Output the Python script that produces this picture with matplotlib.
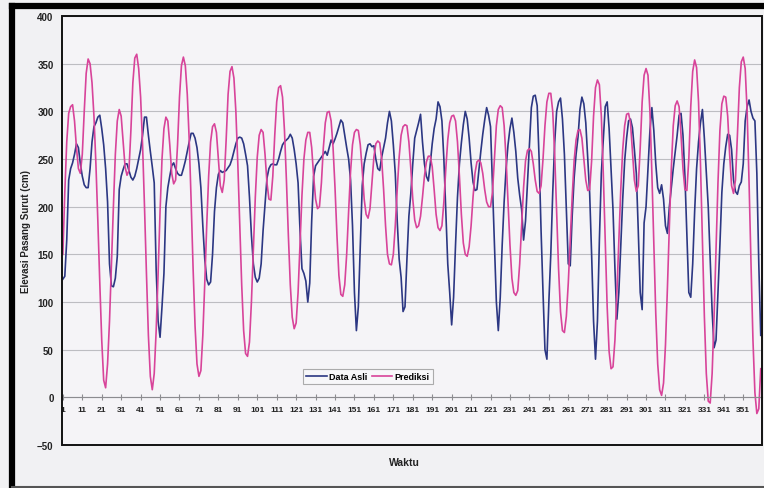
import matplotlib
matplotlib.use("Agg")
import matplotlib.pyplot as plt
from matplotlib.lines import Line2D
from matplotlib.patches import Rectangle

plt.rcParams['font.family'] = ['Liberation Sans', 'DejaVu Sans']

# waktu (jam ke-)
waktu = list(range(1, 361))

data_asli = [
    124, 127, 165, 228, 240, 246, 255, 266, 262, 245,
    232, 223, 220, 220, 240, 268, 284, 288, 294, 296,
    282, 265, 240, 205, 140, 117, 116, 125, 148, 218,
    232, 239, 245, 245, 238, 231, 228, 232, 240, 250,
    260, 275, 294, 294, 275, 258, 242, 225, 134, 80,
    63, 95, 130, 200, 220, 232, 243, 246, 240, 235,
    233, 233, 240, 248, 258, 268, 277, 277, 272, 262,
    245, 220, 180, 145, 124, 118, 121, 150, 195, 220,
    234, 238, 236, 237, 238, 241, 244, 250, 258, 266,
    272, 273, 272, 266, 255, 243, 210, 170, 140, 126,
    121, 125, 140, 175, 203, 230, 240, 244, 245, 244,
    244, 250, 258, 265, 268, 270, 272, 276, 272, 260,
    245, 225, 175, 135, 130, 122, 100, 120, 185, 232,
    243, 246, 249, 252, 255, 258, 254, 262, 270, 266,
    271, 277, 284, 291, 288, 275, 262, 250, 228, 180,
    110, 70, 95, 160, 222, 245, 256, 265, 266, 263,
    264, 250, 240, 238, 252, 262, 272, 288, 300, 290,
    265, 235, 185, 145, 126, 90, 95, 145, 190, 214,
    245, 272, 280, 288, 297, 268, 245, 232, 227, 245,
    266, 282, 292, 310, 305, 290, 250, 195, 140, 110,
    76, 105, 160, 210, 245, 267, 286, 300, 292, 272,
    246, 226, 217, 218, 238, 258, 276, 291, 304, 296,
    284, 222, 160, 100, 70, 105, 160, 205, 240, 265,
    282, 293, 278, 258, 230, 212, 197, 165, 185, 225,
    265, 304, 316, 317, 306, 250, 175, 110, 50, 40,
    100, 150, 215, 267, 300, 310, 314, 292, 255, 197,
    140, 138, 190, 230, 255, 273, 302, 315, 308, 288,
    250, 214, 150, 80, 40, 80, 165, 235, 270, 305,
    310, 282, 240, 197, 135, 82, 110, 160, 208, 248,
    272, 290, 292, 283, 260, 235, 175, 110, 92, 183,
    200, 240, 280, 304, 280, 245, 220, 214, 223, 208,
    180, 172, 200, 220, 240, 258, 275, 296, 298, 275,
    232, 170, 110, 105, 140, 195, 240, 268, 288, 302,
    272, 235, 200, 145, 90, 52, 60, 110, 160, 215,
    245, 263, 276, 275, 260, 228, 216, 213, 222, 226,
    245, 290, 305, 312, 300, 293, 290, 235, 140, 65,
]

prediksi = [
    150, 215, 268, 298, 305, 307, 290, 262, 240, 235,
    255, 300, 340, 355, 350, 330, 295, 245, 185, 120,
    60, 18, 10, 35, 80, 140, 200, 255, 290, 302,
    295, 268, 242, 233, 238, 280, 330, 356, 360, 345,
    315, 265, 200, 130, 65, 22, 8, 25, 70, 130,
    195, 250, 282, 294, 290, 265, 235, 224, 228, 265,
    315, 348, 357, 348, 318, 270, 205, 135, 75, 35,
    22, 28, 65, 120, 180, 232, 268, 284, 287, 278,
    250, 222, 215, 228, 270, 318, 342, 347, 335, 300,
    245, 180, 118, 70, 46, 43, 58, 100, 155, 210,
    252, 275, 281, 278, 255, 225, 208, 207, 232, 275,
    310, 325, 327, 315, 280, 228, 170, 118, 84, 72,
    78, 110, 160, 212, 250, 270, 278, 278, 262, 232,
    208, 198, 200, 225, 262, 288, 299, 300, 290, 262,
    220, 170, 128, 108, 106, 118, 150, 195, 237, 265,
    278, 281, 280, 265, 238, 208, 192, 188, 198, 225,
    252, 266, 269, 267, 250, 218, 180, 150, 140, 139,
    150, 180, 218, 252, 275, 284, 286, 285, 268, 240,
    208, 186, 178, 180, 190, 210, 232, 247, 253, 253,
    242, 218, 192, 178, 175, 180, 205, 240, 270, 288,
    295, 296, 290, 268, 232, 192, 162, 150, 148, 158,
    180, 210, 235, 247, 249, 246, 235, 218, 205, 200,
    200, 215, 250, 285, 302, 306, 304, 285, 250, 205,
    160, 125, 110, 107, 112, 140, 180, 220, 248, 259,
    261, 258, 245, 228, 216, 214, 222, 250, 285, 310,
    319, 319, 300, 255, 195, 135, 90, 70, 68, 85,
    120, 165, 210, 248, 270, 280, 281, 272, 250, 228,
    217, 218, 248, 295, 325, 333, 328, 295, 235, 165,
    95, 48, 30, 32, 60, 110, 165, 218, 260, 285,
    297, 298, 288, 258, 228, 216, 222, 262, 310, 338,
    345, 338, 300, 235, 160, 88, 35, 8, 2, 15,
    55, 115, 180, 240, 285, 306, 311, 305, 275, 240,
    218, 217, 250, 305, 342, 354, 346, 310, 245, 165,
    85, 25, -4, -6, 25, 85, 155, 225, 280, 308,
    316, 315, 295, 255, 222, 214, 228, 275, 325, 352,
    357, 345, 300, 225, 140, 60, 5, -17, -12, 30,
]

x_ticks = list(range(1, 361, 10))
y_ticks = list(range(-50, 401, 50))

fig = plt.figure(figsize=(7.64, 4.89), dpi=100, facecolor='#f1f1f3')
ax = fig.add_axes([0.081, 0.088, 0.916, 0.877])
ax.set_facecolor('#f5f4f7')

ax.plot(waktu, data_asli, color='#2c3783', lw=1.2, label='Data Asli')
ax.plot(waktu, prediksi, color='#d8449a', lw=1.2, label='Prediksi')

ax.set_xlim(0.5, 360.5)
ax.set_ylim(-50, 400)
ax.set_yticks(y_ticks)
ax.set_xticks(x_ticks)
ax.yaxis.grid(True, color='#bdbdc2', lw=0.8)
ax.set_axisbelow(True)

# sumbu x memotong di 0
for s in ['top', 'right', 'left']:
    ax.spines[s].set_visible(False)
ax.spines['bottom'].set_position(('data', 0))
ax.spines['bottom'].set_color('#8c8c90')
ax.spines['bottom'].set_linewidth(0.8)
ax.tick_params(axis='x', direction='inout', length=4, color='#8c8c90',
               labelsize=6, labelcolor='#222222', pad=4)
ax.tick_params(axis='y', length=0, labelsize=7, labelcolor='#222222', pad=6)
for lb in ax.get_xticklabels() + ax.get_yticklabels():
    lb.set_fontweight('bold')

ax.add_patch(Rectangle((0, 0), 1, 1, transform=ax.transAxes, fill=False,
                       lw=1.4, ec='#111111', clip_on=False, zorder=5))

ax.set_ylabel('Elevasi Pasang Surut (cm)', fontsize=7, fontweight='bold',
              color='#222222', labelpad=4)
fig.text(0.53, 0.053, 'Waktu', fontsize=7.5, fontweight='bold', color='#222222',
         ha='center', va='center')

leg = ax.legend(loc='center', bbox_to_anchor=(0.437, 0.16), ncol=2,
                fontsize=6.5, frameon=True, fancybox=False, handlelength=2.3,
                handletextpad=0.25, columnspacing=0.5, borderpad=0.35)
leg.get_frame().set_edgecolor('#999999')
leg.get_frame().set_facecolor('#f8f8fa')
leg.get_frame().set_linewidth(0.8)
for t in leg.get_texts():
    t.set_fontweight('bold')

# bingkai luar tebal
fig.add_artist(Line2D([0.016, 0.016], [0.0, 0.985], color='black', lw=4.5))
fig.add_artist(Line2D([0.016, 1.0], [0.985, 0.985], color='black', lw=4.5))
fig.add_artist(Line2D([0.016, 1.0], [0.003, 0.003], color='#555555', lw=1.5))

fig.savefig('out.png', dpi=100, facecolor=fig.get_facecolor())
